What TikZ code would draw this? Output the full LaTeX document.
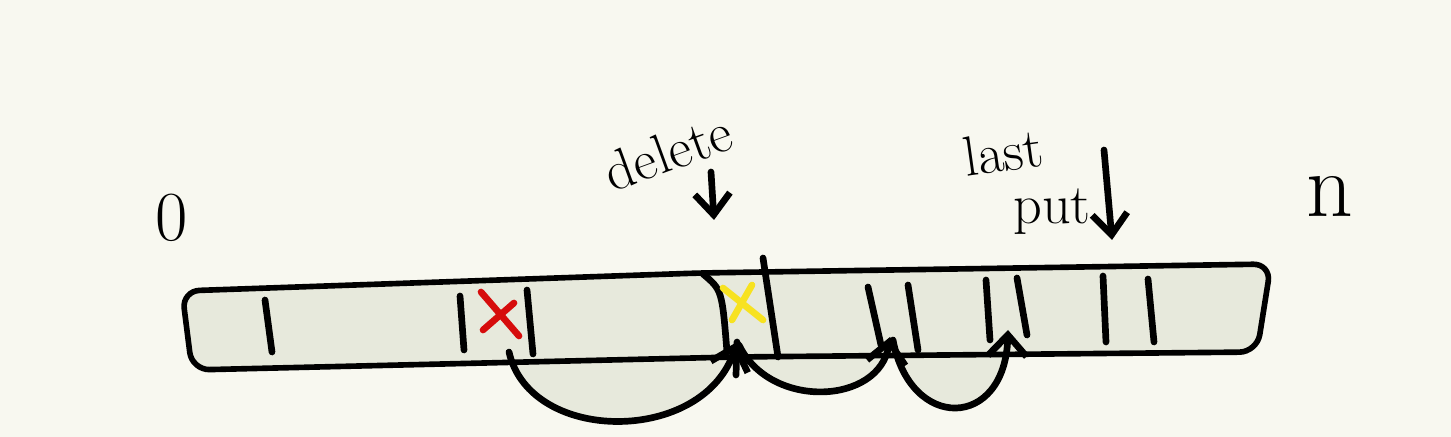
\documentclass[tikz,border=0pt]{standalone}
\usepackage{tikz}
\usetikzlibrary{arrows.meta, positioning, calc}
\definecolor{paper}{RGB}{248,248,240}
\definecolor{tape}{RGB}{231,233,220}
\definecolor{markred}{RGB}{214,12,12}
\definecolor{markyellow}{RGB}{247,226,32}

\begin{document}
\begin{tikzpicture}[
  x=0.01cm, y=-0.01cm,
  pen/.style={line width=1.9pt, line cap=round, line join=round},
  hop/.style={pen, -{Straight Barb[length=6pt, width=11pt, line width=1.9pt]}},
  pointer/.style={pen, -{Straight Barb[length=6pt, width=10pt, line width=1.9pt]}},
  scrawl/.style={inner sep=0pt, font=\fontsize{16}{19}\selectfont}
  ]
  \useasboundingbox (0,0) rectangle (1451,437);
  \fill[paper] (0,0) rectangle (1451,437);
  \coordinate (h0) at (509,352);
  \coordinate (h1) at (737,342);
  \coordinate (h2) at (890,337);
  \coordinate (h3) at (1008,330);
  % shade under the hops
  \fill[tape] (h0) .. controls (530,445) and (705,445) .. (h1)
    .. controls (770,410) and (880,405) .. (h2)
    .. controls (910,432) and (1005,430) .. (h3) -- cycle;
  % the tape
  \draw[pen, line width=1.6pt, fill=tape, rounded corners=5pt]
    (182,291) -- (700,273) -- (1271,264) -- (1257,352)
    -- (735,357) -- (192,370) -- cycle;
  % hops below the tape
  \draw[hop] (h0) .. controls (530,445) and (705,445) .. (h1);
  \draw[hop] ($(h1)+(2,3)$) .. controls (770,410) and (880,405) .. (h2);
  \draw[hop] ($(h2)+(3,3)$) .. controls (910,432) and (1005,430) .. (h3);
  \draw[pen] (h1) -- (736,375);
  % slots
  \draw[pen] (265,300) -- (272,352);
  \draw[pen] (460,296) -- (464,350);
  \draw[pen] (527,290) -- (533,354);
  \draw[pen] (703,274) .. controls (722,290) .. (727,352);
  \draw[pen] (763,258) -- (778,357);
  \draw[pen] (868,287) -- (881,345);
  \draw[pen] (908,285) -- (918,350);
  \draw[pen] (986,280) -- (990,340);
  \draw[pen] (1017,278) -- (1027,335);
  \draw[pen] (1103,276) -- (1106,342);
  \draw[pen] (1148,279) -- (1154,342);
  % the two marks
  \draw[pen, markred] (481,292) -- (519,336);
  \draw[pen, markred] (514,303) -- (483,330);
  \draw[pen, markyellow] (723,288) -- (763,320);
  \draw[pen, markyellow] (752,285) -- (732,320);
  % labels
  \node[scrawl, font=\fontsize{20}{24}\selectfont] (zero) at (172,218) {0};
  \node[scrawl, font=\fontsize{26}{30}\selectfont] (n) at (1330,196) {n};
  \node[scrawl, rotate=20] (del) at (668,152) {delete};
  \node[scrawl, rotate=8] (last) at (1003,152) {last};
  \node[scrawl] (put) at (1052,212) {put};
  \coordinate (delFrom) at (711,172);
  \coordinate (delTo) at (714,220);
  \draw[pointer] (delFrom) -- (delTo);
  \coordinate (putFrom) at (1104,150);
  \coordinate (putTo) at (1112,240);
  \draw[pointer] (putFrom) -- (putTo);
\end{tikzpicture}
\end{document}
